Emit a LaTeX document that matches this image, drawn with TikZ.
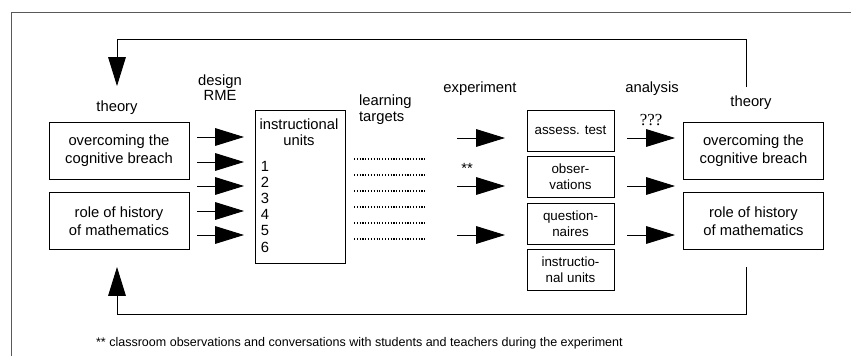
\documentclass[tikz,border=0pt]{standalone}
\usepackage{fontspec}
\setmainfont{Liberation Sans}
\newfontfamily\qfont{Liberation Serif}
\usetikzlibrary{arrows.meta}
\begin{document}
\begin{tikzpicture}[x=0.025cm,y=-0.025cm,line width=0.6pt]
  \tikzstyle{every node}=[font=\fontsize{10.5}{13}\selectfont]
  \tikzstyle{bigbox}=[draw,minimum width=3.5cm,minimum height=1.42cm,align=center]
  \tikzstyle{smallbox}=[draw,minimum width=2.175cm,minimum height=1.025cm,align=center,
                        font=\fontsize{9.5}{11.4}\selectfont]
  \tikzstyle{bigarrow}=[-{Triangle[length=0.72cm,width=0.44cm]}]
  \tikzstyle{dots}=[dash pattern=on 0.8pt off 1.2pt,line width=0.9pt]
  \useasboundingbox (0,0) rectangle (851,356);
  \draw[black!65] (851,12) -- (11,12) -- (11,356);
  \node at (117,108) (thl) {theory};
  \node at (751,103) (thr) {theory};
  \node[bigbox] at (119,151) (cbl) {overcoming the\\cognitive breach};
  \node[bigbox] at (119,221) (hml) {role of history\\of mathematics};
  \node[bigbox] at (753.5,151) (cbr) {overcoming the\\cognitive breach};
  \node[bigbox] at (753.5,221) (hmr) {role of history\\of mathematics};
  \node[align=center,font=\fontsize{10.5}{10.7}\selectfont] at (220,87.5) (rme) {design\\RME};
  \node[draw,minimum width=2.25cm,minimum height=3.825cm] at (300,186.5) (iu) {};
  \node[align=center,font=\fontsize{10.5}{11.4}\selectfont] at (299,132) (iut) {instructional\\units};
  \foreach \n in {1,...,6}
    \node[anchor=west,inner sep=1pt] at (259,149.8+16.2*\n) (num\n) {\n};
  \node[anchor=west,align=left,font=\fontsize{10.5}{11.4}\selectfont] at (354,110) (lt) {learning\\targets};
  \node at (480,89) (exp) {experiment};
  \node at (652,89) (ana) {analysis};
  \node at (467,168) (st) {**};
  \node[font=\qfont\fontsize{12}{13}\selectfont] at (651,120) (qq) {???};
  \node[smallbox] at (570.5,130.5) (at) {assess. test};
  \node[smallbox] at (570.5,177) (ob) {obser-\\vations};
  \node[smallbox] at (570.5,223.5) (qu) {question-\\naires};
  \node[smallbox] at (570.5,270) (in) {instructio-\\nal units};
  \foreach \y [count=\i] in {137,162,186,211,235} {
    \coordinate (la\i) at (197,\y);
    \coordinate (lb\i) at (244,\y);
    \draw[bigarrow] (la\i) -- (lb\i);
  }
  \foreach \y [count=\i] in {159,175,191,207,223,239} {
    \coordinate (da\i) at (354,\y);
    \coordinate (db\i) at (427,\y);
    \draw[dots] (da\i) -- (db\i);
  }
  \foreach \y [count=\i] in {138,186,235} {
    \coordinate (ma\i) at (457,\y);
    \coordinate (mb\i) at (505,\y);
    \draw[bigarrow] (ma\i) -- (mb\i);
    \coordinate (ra\i) at (627,\y);
    \coordinate (rb\i) at (675,\y);
    \draw[bigarrow] (ra\i) -- (rb\i);
  }
  \coordinate (upr) at (746,87);
  \coordinate (upc) at (117,39);
  \coordinate (upl) at (117,86);
  \draw[bigarrow] (upr) |- (upc) -- (upl);
  \coordinate (dnr) at (746,267);
  \coordinate (dnc) at (117,314);
  \coordinate (dnl) at (117,267);
  \draw[bigarrow] (dnr) |- (dnc) -- (dnl);
  \node[anchor=west,font=\fontsize{8.9}{11}\selectfont] at (91,343) (note)
    {** classroom observations and conversations with students and teachers during the experiment};
\end{tikzpicture}
\end{document}
